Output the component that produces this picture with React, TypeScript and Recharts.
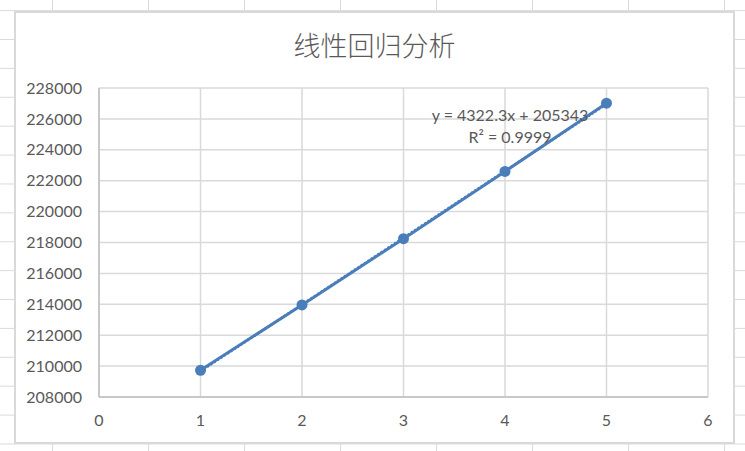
import { ScatterChart, Scatter, XAxis, YAxis, CartesianGrid } from "recharts";

const xValues = [1, 2, 3, 4, 5];
const yValues = [209725, 213960, 218250, 222600, 227015];

// Excel's trendline label
const slope = 4322.3;
const intercept = 205343;
const equationText = "y = 4322.3x + 205343";
const rSquaredText = "R² = 0.9999";
const title = "线性回归分析";

const xTicks = [0, 1, 2, 3, 4, 5, 6];
const yTicks = [
  208000, 210000, 212000, 214000, 216000, 218000, 220000, 222000, 224000,
  226000, 228000,
];

const blue = "#4a7ebb";
const textColor = "#595959";
const font = "Lato, 'Open Sans', sans-serif";

const points = xValues.map((x, i) => ({ x, y: yValues[i] }));
const trend = [xValues[0], xValues[xValues.length - 1]].map((x) => ({
  x,
  y: slope * x + intercept,
}));

const Marker = (props: any) => (
  <circle cx={props.cx} cy={props.cy} r={5.5} fill={blue} />
);
const NoMarker = () => <g />;

export default function App() {
  return (
    <div
      style={{
        position: "absolute",
        left: 0,
        top: 0,
        width: 745,
        height: 451,
        overflow: "hidden",
        background: "#fff",
        backgroundImage:
          "linear-gradient(to right, #dadada 1px, transparent 1px), linear-gradient(to bottom, #dadada 1px, transparent 1px)",
        backgroundSize: "96px 100%, 100% 28.9px",
        backgroundPosition: "52px 0, 0 39px",
      }}
    >
      <div
        style={{
          position: "absolute",
          left: 14,
          top: 11,
          width: 721,
          height: 433,
          boxSizing: "border-box",
          border: "2px solid #d9d9d9",
          background: "#fff",
        }}
      />
      <div
        style={{
          position: "absolute",
          left: 14,
          width: 721,
          top: 26,
          textAlign: "center",
          fontFamily: "'Noto Sans CJK SC', sans-serif",
          fontWeight: 300,
          fontSize: 27,
          lineHeight: "38px",
          color: textColor,
        }}
      >
        {title}
      </div>
      <div style={{ position: "absolute", left: 0, top: 0 }}>
        <ScatterChart
          width={745}
          height={451}
          margin={{ top: 88, right: 37, bottom: 24, left: 0 }}
        >
          <CartesianGrid stroke="#d9d9d9" strokeWidth={1.5} />
          <XAxis
            type="number"
            dataKey="x"
            domain={[0, 6]}
            ticks={xTicks}
            height={30}
            tickSize={0}
            tickMargin={18}
            tickLine={false}
            axisLine={{ stroke: "#bfbfbf", strokeWidth: 1.5 }}
            tick={{ fill: textColor, fontSize: 16, fontFamily: font }}
          />
          <YAxis
            type="number"
            dataKey="y"
            domain={[208000, 228000]}
            ticks={yTicks}
            width={99}
            tickSize={0}
            tickMargin={17}
            tickLine={false}
            axisLine={{ stroke: "#bfbfbf", strokeWidth: 1.5 }}
            tick={{ fill: textColor, fontSize: 16, fontFamily: font }}
          />
          <Scatter
            data={points}
            fill={blue}
            line={{ stroke: blue, strokeWidth: 3 }}
            lineType="joint"
            shape={Marker}
            isAnimationActive={false}
          />
          <Scatter
            data={trend}
            fill={blue}
            line={{ stroke: blue, strokeWidth: 2.5, strokeDasharray: "2 2" }}
            lineType="joint"
            shape={NoMarker}
            isAnimationActive={false}
          />
        </ScatterChart>
      </div>
      <div
        style={{
          position: "absolute",
          left: 410,
          width: 200,
          top: 104,
          textAlign: "center",
          fontFamily: font,
          fontSize: 16,
          lineHeight: "21.5px",
          color: textColor,
          whiteSpace: "pre",
        }}
      >
        {equationText + "\n" + rSquaredText}
      </div>
    </div>
  );
}
